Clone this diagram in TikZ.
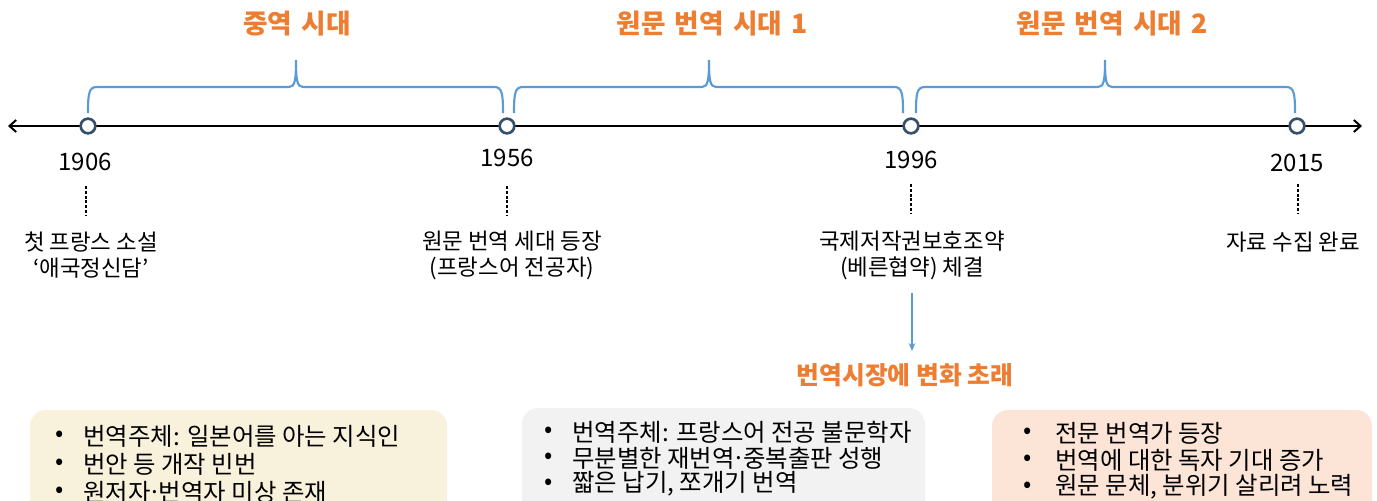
\documentclass[tikz,border=0pt]{standalone}
\usepackage{fontspec}
\setmainfont{Noto Sans CJK KR}
\newfontfamily\titlefont{Noto Sans CJK KR}[WordSpace=1.5]
\usetikzlibrary{arrows.meta}
\definecolor{orng}{HTML}{ED7D31}
\definecolor{bblue}{HTML}{5B9BD5}
\definecolor{navy}{HTML}{35506B}
\definecolor{boxA}{HTML}{F8F1DC}
\definecolor{boxB}{HTML}{F2F2F2}
\definecolor{boxC}{HTML}{FCE5D7}
\newcommand{\mybrace}[3]{%
  \draw[bracestyle] (#1,113) .. controls (#1,93) and (#1+1,87) .. (#1+9,87) -- (#2-7,87)
    .. controls (#2-1,87) and (#2,80) .. (#2,60)
    .. controls (#2,80) and (#2+1,87) .. (#2+7,87) -- (#3-9,87)
    .. controls (#3-1,87) and (#3,93) .. (#3,113);}
\newcommand{\mdot}{\kern0.03em\raisebox{0.3em}{.}\kern0.03em}
\begin{document}
\begin{tikzpicture}[x=0.75pt,y=-0.75pt,
  bracestyle/.style={draw=bblue,line width=1.6pt},
  dot/.style={circle,draw=navy,fill=white,line width=2pt,minimum size=11pt,inner sep=0pt},
  title/.style={text=orng,font=\titlefont\fontsize{20}{24}\selectfont\bfseries},
  market/.style={text=orng,font=\fontsize{18.6}{22}\selectfont\bfseries},
  year/.style={font=\fontsize{18}{22}\selectfont,inner sep=0pt},
  event/.style={font=\fontsize{16.8}{19.5}\selectfont,align=center,inner sep=0pt},
  guide/.style={line width=1.2pt,dash pattern=on 2.2pt off 1.4pt},
  bul/.style={font=\fontsize{18.3}{20}\selectfont,anchor=west,inner sep=0pt},
]
\useasboundingbox (0,0) rectangle (1377,500);
\clip (0,0) rectangle (1377,500);

% titles
\node[title] (ti1) at (297,24) {중역 시대};
\node[title] (ti2) at (712,24) {원문 번역 시대 1};
\node[title] (ti3) at (1112,24) {원문 번역 시대 2};

% braces
\mybrace{88}{296}{503}
\mybrace{514}{709}{903}
\mybrace{916}{1105}{1295}

% timeline
\coordinate (L) at (8,126);
\coordinate (R) at (1362,126);
\draw[line width=1.5pt,{Straight Barb[length=5pt,width=9pt,line width=1.5pt]}-{Straight Barb[length=5pt,width=9pt,line width=1.5pt]}] (L) -- (R);
\node[dot] (t1) at (88,126) {};
\node[dot] (t2) at (507,126) {};
\node[dot] (t3) at (911,126) {};
\node[dot] (t4) at (1297,126) {};

% years
\node[year] (y1) at (85,162) {1906};
\node[year] (y2) at (507,158) {1956};
\node[year] (y3) at (911,160) {1996};
\node[year] (y4) at (1297,163) {2015};

% dashed guides
\coordinate (d1a) at (86,186); \coordinate (d1b) at (86,216);
\coordinate (d2a) at (507,186); \coordinate (d2b) at (507,216);
\coordinate (d3a) at (911,184); \coordinate (d3b) at (911,213);
\coordinate (d4a) at (1298,184); \coordinate (d4b) at (1298,213);
\draw[guide] (d1a) -- (d1b);
\draw[guide] (d2a) -- (d2b);
\draw[guide] (d3a) -- (d3b);
\draw[guide] (d4a) -- (d4b);

% events
\node[event] (e1) at (91,255) {첫 프랑스 소설\\‘애국정신담’};
\node[event] (e2) at (512,255) {원문 번역 세대 등장\\(프랑스어 전공자)};
\node[event] (e3) at (912,255) {국제저작권보호조약\\(베른협약) 체결};
\node[event] (e4) at (1293,242) {자료 수집 완료};

% arrow to market change
\node[market] (mk) at (905,375) {번역시장에 변화 초래};
\coordinate (a1) at (912,293);
\coordinate (a2) at (912,351);
\draw[draw=bblue,line width=1.2pt,-{Stealth[length=6pt,width=5pt]}] (a1) -- (a2);

% boxes
\fill[boxA,rounded corners=12pt] (30,410) rectangle (447,530);
\fill[boxB,rounded corners=12pt] (522,408) rectangle (925,530);
\fill[boxC,rounded corners=12pt] (992,410) rectangle (1372,530);

\node[bul] (p11) at (55,436) {•};
\node[bul] (b11) at (83,436) {번역주체: 일본어를 아는 지식인};
\node[bul] (p12) at (55,464) {•};
\node[bul] (b12) at (83,464) {번안 등 개작 빈번};
\node[bul] (p13) at (55,492) {•};
\node[bul] (b13) at (83,492) {원저자\mdot 번역자 미상 존재};

\node[bul] (p21) at (544,432) {•};
\node[bul] (b21) at (572,432) {번역주체: 프랑스어 전공 불문학자};
\node[bul] (p22) at (544,458) {•};
\node[bul] (b22) at (572,458) {무분별한 재번역\mdot 중복출판 성행};
\node[bul] (p23) at (544,484) {•};
\node[bul] (b23) at (572,484) {짧은 납기, 쪼개기 번역};

\node[bul] (p31) at (1023,433) {•};
\node[bul] (b31) at (1055,433) {전문 번역가 등장};
\node[bul] (p32) at (1023,460) {•};
\node[bul] (b32) at (1055,460) {번역에 대한 독자 기대 증가};
\node[bul] (p33) at (1023,487) {•};
\node[bul] (b33) at (1055,487) {원문 문체, 분위기 살리려 노력};
\end{tikzpicture}
\end{document}
